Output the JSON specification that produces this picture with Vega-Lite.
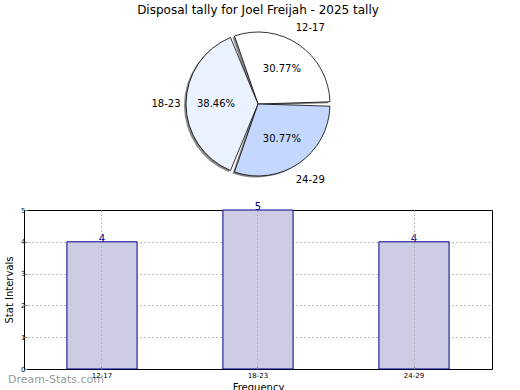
{
  "$schema": "https://vega.github.io/schema/vega-lite/v6.json",
  "padding": {"left": 4, "top": 4, "right": 5, "bottom": 0},
  "background": "white",
  "config": {
    "font": "DejaVu Sans",
    "view": {"stroke": "black", "strokeWidth": 1}
  },
  "spacing": 12,
  "vconcat": [
    {
      "width": 468,
      "height": 170,
      "view": {"stroke": null},
      "title": {"text": "Disposal tally for Joel Freijah - 2025 tally", "fontSize": 12, "fontWeight": "normal", "font": "DejaVu Sans", "anchor": "middle", "offset": 2, "color": "black"},
      "data": {"values": [
        {"group": "12-17", "count": 4, "pct": "30.77%"},
        {"group": "18-23", "count": 5, "pct": "38.46%"},
        {"group": "24-29", "count": 4, "pct": "30.77%"}
      ]},
      "encoding": {
        "theta": {"field": "count", "type": "quantitative", "stack": true, "scale": {"range": [1.5707963, -4.712389]}},
        "order": {"field": "group", "type": "ordinal"}
      },
      "layer": [
        {
          "mark": {"type": "arc", "outerRadius": 72, "padAngle": 0.06, "fill": "#888888", "xOffset": -2, "yOffset": 1.5, "strokeWidth": 0}
        },
        {
          "mark": {"type": "arc", "outerRadius": 72, "padAngle": 0.06, "stroke": "black", "strokeWidth": 0.8},
          "encoding": {
            "color": {"field": "group", "type": "nominal", "legend": null,
              "scale": {"domain": ["12-17", "18-23", "24-29"], "range": ["#ffffff", "#eaf1ff", "#c4d8ff"]}}
          }
        },
        {
          "mark": {"type": "text", "radius": 42, "fontSize": 10, "color": "black"},
          "encoding": {"text": {"field": "pct"}}
        },
        {
          "mark": {"type": "text", "radius": 92, "fontSize": 10, "color": "black"},
          "encoding": {"text": {"field": "group"}}
        }
      ]
    },
    {
      "width": 468,
      "height": 159,
      "data": {"values": [
        {"group": "12-17", "count": 4},
        {"group": "18-23", "count": 5},
        {"group": "24-29", "count": 4}
      ]},
      "encoding": {
        "x": {"field": "group", "type": "nominal", "sort": null,
          "scale": {"paddingInner": 0.55, "paddingOuter": 0.275},
          "axis": {"title": "Frequency", "titleFontSize": 10, "titleFontWeight": "normal", "titleColor": "black", "titlePadding": 4,
            "labelAngle": 0, "labelFontSize": 7, "labelColor": "black", "labelPadding": 5,
            "domain": false, "ticks": true, "tickSize": -3, "tickColor": "#888888", "bandPosition": 0.5, "zindex": 1,
            "grid": true, "gridColor": "#aaaaaa", "gridDash": [1.5, 2.5], "gridWidth": 1}},
        "y": {"field": "count", "type": "quantitative",
          "scale": {"domain": [0, 5], "nice": false},
          "axis": {"title": "Stat Intervals", "titleFontSize": 10, "titleFontWeight": "normal", "titleColor": "black", "titlePadding": 6,
            "values": [0, 1, 2, 3, 4, 5], "labelFontSize": 7, "labelColor": "black", "labelPadding": 2,
            "domain": false, "ticks": true, "tickSize": -3, "tickColor": "#888888",
            "grid": true, "gridColor": "#aaaaaa", "gridDash": [1.5, 2.5], "gridWidth": 1,
            "gridOpacity": {"condition": {"test": "datum.value == 5 || datum.value == 0", "value": 0}, "value": 1}}}
      },
      "layer": [
        {
          "mark": {"type": "bar", "fill": "#ccccE4", "stroke": "#00008B", "strokeWidth": 1}
        },
        {
          "mark": {"type": "text", "baseline": "bottom", "dy": 2, "fontSize": 10, "color": "#00008B", "clip": false},
          "encoding": {"text": {"field": "count"}}
        },
        {
          "data": {"values": [{"label": "Dream-Stats.com", "gx": "12-17", "gy": -0.36}]},
          "mark": {"type": "text", "align": "right", "baseline": "middle", "dx": 2, "fontSize": 11, "color": "#999999", "clip": false},
          "encoding": {
            "x": {"field": "gx", "type": "nominal"},
            "y": {"field": "gy", "type": "quantitative"},
            "text": {"field": "label"}
          }
        }
      ]
    }
  ]
}
